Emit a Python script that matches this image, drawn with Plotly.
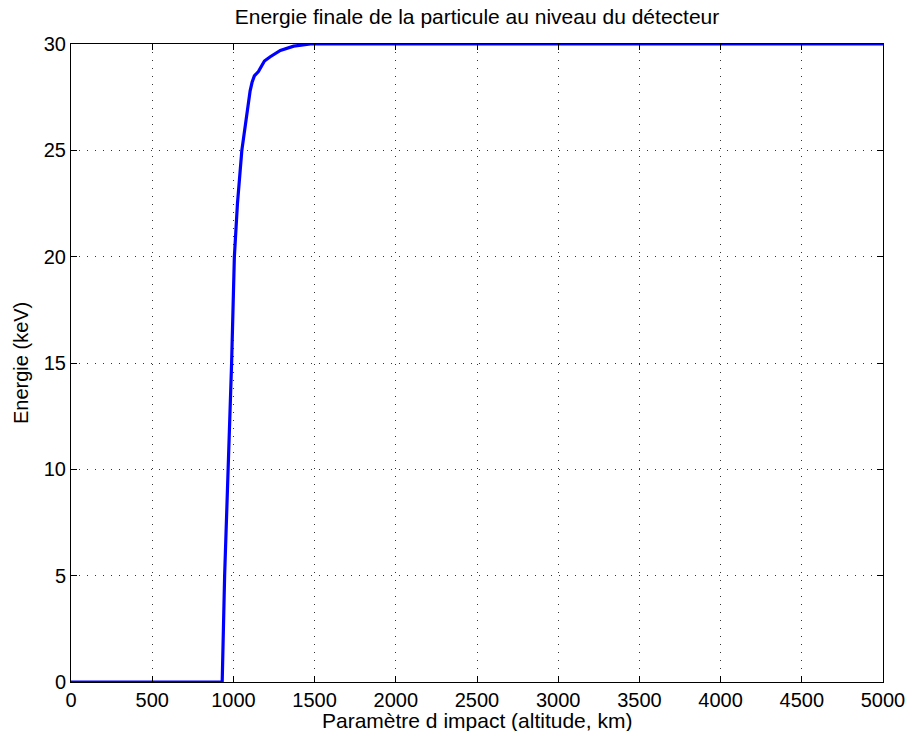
import plotly.graph_objects as go

# Impact parameter (altitude, km) and final energy (keV)
altitude_km = [0, 931, 946, 968, 989, 1006, 1025, 1052, 1076, 1092, 1103, 1115,
               1129, 1154, 1175, 1191, 1227, 1289, 1371, 1475, 1550, 5000]
energy_kev = [0, 0, 5, 10, 15, 20, 22.5, 25, 26.4, 27.2, 27.8, 28.2,
              28.5, 28.7, 29.0, 29.2, 29.4, 29.7, 29.9, 30, 30, 30]

x_ticks = [0, 500, 1000, 1500, 2000, 2500, 3000, 3500, 4000, 4500, 5000]
y_ticks = [0, 5, 10, 15, 20, 25, 30]

FONT = "Liberation Sans, Arial, Helvetica, sans-serif"
FS = 20

fig = go.Figure()
fig.add_trace(go.Scatter(x=altitude_km, y=energy_kev, mode="lines",
                         line=dict(color="#0000ff", width=3.2), showlegend=False))

axis_common = dict(showline=True, linecolor="black", linewidth=1, mirror="ticks",
                   ticks="inside", ticklen=6, tickcolor="black", tickwidth=1,
                   showgrid=True, gridcolor="rgba(0,0,0,0.8)", griddash="1px,7px", gridwidth=1,
                   zeroline=False, ticklabeloverflow="allow", automargin=False,
                   tickfont=dict(family=FONT, size=FS, color="black"))

fig.update_layout(
    width=909, height=731,
    paper_bgcolor="white", plot_bgcolor="white",
    margin=dict(l=71, r=26, t=44, b=49, autoexpand=False),
    title=dict(text="Energie finale de la particule au niveau du détecteur",
               xref="paper", x=0.5, xanchor="center", y=0.977, yanchor="middle",
               font=dict(family=FONT, size=21, color="black")),
    xaxis=dict(range=[0, 5000], tickvals=x_ticks, ticktext=[str(v) for v in x_ticks],
               **axis_common),
    yaxis=dict(range=[0, 30], tickvals=y_ticks, ticktext=[str(v) for v in y_ticks],
               **axis_common),
    annotations=[
        dict(text="Paramètre d impact (altitude, km)", xref="paper", yref="paper",
             x=0.5, y=0, xanchor="center", yanchor="middle", yshift=-38,
             showarrow=False, font=dict(family=FONT, size=21, color="black")),
        dict(text="Energie (keV)", xref="paper", yref="paper", textangle=-90,
             x=0, y=0.5, xanchor="center", yanchor="middle", xshift=-50,
             showarrow=False, font=dict(family=FONT, size=FS, color="black")),
    ],
)

fig.write_html("out.html", config={"displayModeBar": False},
               post_script="document.body.style.margin='0px';document.body.style.overflow='hidden';")
